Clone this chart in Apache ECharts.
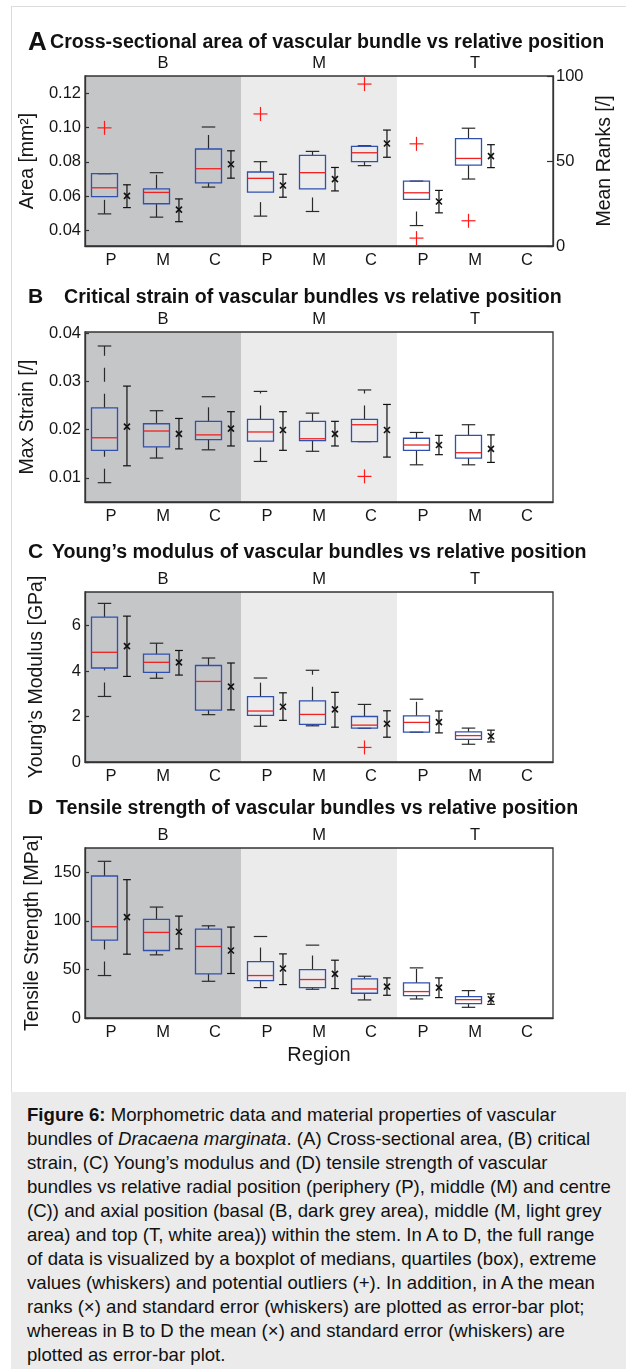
<!DOCTYPE html>
<html><head><meta charset="utf-8">
<script src="https://cdn.jsdelivr.net/npm/echarts@6/dist/echarts.min.js"></script>
<style>
html,body{margin:0;padding:0;background:#fff;}
#frame{position:absolute;left:11px;top:6px;width:640px;height:1086px;border-left:1px solid #dcdcdc;border-top:1px solid #dcdcdc;}
#chart{position:absolute;left:0;top:0;width:626px;height:1092px;}
#cap{position:absolute;left:11px;top:1092px;width:615px;height:277px;background:#ebebeb;font-family:'Liberation Sans',Arial,sans-serif;font-size:18.6px;line-height:24px;color:#111;padding:11px 0 0 16px;box-sizing:border-box;white-space:nowrap;overflow:hidden;}
</style></head>
<body>
<div id="frame"></div>
<div id="chart"></div>
<div id="cap"><b>Figure 6:</b> Morphometric data and material properties of vascular<br>bundles of <i>Dracaena marginata</i>. (A) Cross-sectional area, (B) critical<br>strain, (C) Young’s modulus and (D) tensile strength of vascular<br>bundles vs relative radial position (periphery (P), middle (M) and centre<br>(C)) and axial position (basal (B, dark grey area), middle (M, light grey<br>area) and top (T, white area)) within the stem. In A to D, the full range<br>of data is visualized by a boxplot of medians, quartiles (box), extreme<br>values (whiskers) and potential outliers (+). In addition, in A the mean<br>ranks (×) and standard error (whiskers) are plotted as error-bar plot;<br>whereas in B to D the mean (×) and standard error (whiskers) are<br>plotted as error-bar plot.</div>
<script>
// ---------- DATA ----------
const categories = ['P','M','C','P','M','C','P','M','C'];
const groups = ['B','M','T'];
const groupRanges = [[0,2],[3,5],[6,8]];

// box rows: [lower whisker, Q1, median, Q3, upper whisker]
const areaBox = [
  [0.0497,0.0597,0.0649,0.0731,0.0731],
  [0.0478,0.0556,0.0622,0.0643,0.0737],
  [0.0653,0.0678,0.0760,0.0875,0.1003],
  [0.0484,0.0624,0.0704,0.0741,0.0801],
  [0.0511,0.0643,0.0737,0.0838,0.0861],
  [0.0778,0.0801,0.0853,0.0890,0.0894],
  [0.0429,0.0581,0.0620,0.0688,0.0688],
  [0.0700,0.0781,0.0820,0.0935,0.0996],
  null
];
const areaOutliers = [[0,0.0998],[3,0.1079],[5,0.1253],[6,0.0905],[6,0.0356],[7,0.0457]];
// error bars: [low, centre, high]
const areaRanks = [
  [22.6,29.5,36.0],[14.3,21.4,27.7],[39.9,48.1,56.0],
  [28.7,35.6,42.2],[32.4,39.3,46.2],[52.2,60.3,68.2],
  [19.5,26.2,32.7],[46.1,52.9,59.6],null
];

const strainBox = [
  [0.0090,0.0157,0.0183,0.0245,0.0373],
  [0.0141,0.0164,0.0197,0.0212,0.0239],
  [0.0158,0.0179,0.0189,0.0217,0.0268],
  [0.0134,0.0176,0.0195,0.0221,0.0279],
  [0.0155,0.0177,0.0181,0.0217,0.0234],
  [0.0175,0.0175,0.0210,0.0221,0.0282],
  [0.0127,0.0157,0.0168,0.0182,0.0194],
  [0.0127,0.0141,0.0152,0.0188,0.0210],
  null
];
const strainOutliers = [[5,0.0103]];
const strainMean = [
  [0.0125,0.0206,0.0290],[0.0160,0.0191,0.0223],[0.0166,0.0202,0.0237],
  [0.0157,0.0199,0.0237],[0.0166,0.0191,0.0217],[0.0143,0.0199,0.0252],
  [0.0148,0.0168,0.0188],[0.0132,0.0160,0.0189],null
];

const modulusBox = [
  [2.88,4.13,4.82,6.37,6.97],
  [3.68,3.94,4.38,4.74,5.22],
  [2.08,2.28,3.54,4.24,4.57],
  [1.57,2.05,2.24,2.87,3.69],
  [1.59,1.65,2.09,2.69,4.03],
  [1.48,1.49,1.62,2.00,2.53],
  [1.31,1.31,1.74,2.03,2.76],
  [0.78,0.99,1.16,1.32,1.49],
  null
];
const modulusOutliers = [[5,0.64]];
const modulusMean = [
  [3.76,5.09,6.41],[3.82,4.38,4.90],[2.29,3.31,4.35],
  [1.83,2.43,3.04],[1.53,2.31,3.06],[1.09,1.68,2.25],
  [1.28,1.75,2.24],[0.88,1.13,1.40],null
];

const strengthBox = [
  [43.7,80.2,93.9,146.2,161.3],
  [65.0,69.5,88.1,101.5,114.2],
  [37.8,45.4,73.6,91.5,94.9],
  [31.3,38.5,43.7,58.1,83.9],
  [29.6,31.3,39.6,49.9,75.0],
  [18.6,25.5,29.9,40.2,43.0],
  [19.6,23.0,27.2,36.1,51.6],
  [11.0,14.8,18.9,22.0,28.2],
  null
];
const strengthOutliers = [];
const strengthMean = [
  [65.7,103.9,142.4],[71.2,88.8,104.9],[45.8,69.5,93.6],
  [34.4,50.9,66.0],[30.3,45.4,59.5],[23.4,32.3,41.3],
  [21.0,31.3,41.3],[14.1,19.3,24.8],null
];

const areaTicks = [0.04,0.06,0.08,0.10,0.12];
const rankTicks = [0,50,100];
const strainTicks = [0.01,0.02,0.03,0.04];
const modulusTicks = [0,2,4,6];
const strengthTicks = [0,50,100,150];

const letters = ['A','B','C','D'];
const titles = [
  'Cross-sectional area of vascular bundle vs relative position',
  'Critical strain of vascular bundles vs relative position',
  'Young’s modulus of vascular bundles vs relative position',
  'Tensile strength of vascular bundles vs relative position'
];
const yNames = ['Area [mm²]','Max Strain [/]','Young’s Modulus [GPa]','Tensile Strength [MPa]'];

// ---------- LAYOUT / STYLE ----------
const FONT = "'Liberation Sans', Arial, sans-serif";
const TXT = '#161616';
const AX = '#333333';
const groupColors = ['#c5c6c8','#ebebeb','#ffffff'];
const gridTops = [76, 332, 592, 848];
const GRID_H = 170, GRID_L = 85, GRID_W = 468;
const titleCenters = [42.5, 297, 552, 808.5];
const letterSizes = [26, 21, 21, 21];
const textLefts = [50, 64, 52, 56];
const TITLE_SIZE = 19.6;

const panels = [
  {box: areaBox, out: areaOutliers, mean: areaRanks, ticks: areaTicks, min: 0.031, max: 0.13, fmt: v => v.toFixed(2)},
  {box: strainBox, out: strainOutliers, mean: strainMean, ticks: strainTicks, min: 0.005, max: 0.0402, fmt: v => v.toFixed(2)},
  {box: modulusBox, out: modulusOutliers, mean: modulusMean, ticks: modulusTicks, min: 0, max: 7.47, fmt: v => String(v)},
  {box: strengthBox, out: strengthOutliers, mean: strengthMean, ticks: strengthTicks, min: 0, max: 175, fmt: v => String(v)}
];

const BOX_OFF = -0.125, BOX_HALF = 0.25, CAP_HALF = 0.13, EB_OFF = 0.307, EB_CAP = 0.075;

function bgSeries(xi, yi) {
  return {
    type: 'custom', xAxisIndex: xi, yAxisIndex: yi, z: -1, silent: true,
    data: groupRanges.map((r, i) => [r[0], r[1], i]),
    encode: {x: 0},
    renderItem: (params, api) => {
      const s = api.coord([api.value(0), 0])[0];
      const e = api.coord([api.value(1), 0])[0];
      const bw = api.size([1, 0])[0];
      const cs = params.coordSys;
      return {type: 'rect', shape: {x: s - bw / 2, y: cs.y, width: e - s + bw, height: cs.height},
              style: {fill: groupColors[api.value(2)]}};
    }
  };
}

function boxSeries(rows, xi, yi) {
  return {
    type: 'custom', xAxisIndex: xi, yAxisIndex: yi, z: 3, silent: true,
    data: rows.map((d, i) => d ? [i].concat(d) : null).filter(Boolean),
    encode: {x: 0, y: [1, 2, 3, 4, 5]},
    renderItem: (params, api) => {
      const i = api.value(0);
      const bw = api.size([1, 0])[0];
      const cx = api.coord([i, 0])[0] + BOX_OFF * bw;
      const y = k => api.coord([i, api.value(k)])[1];
      const lo = y(1), q1 = y(2), med = y(3), q3 = y(4), hi = y(5);
      const hw = BOX_HALF * bw, cw = CAP_HALF * bw;
      const solid = {stroke: '#2a2a2a', lineWidth: 1.2};
      const dashed = {stroke: '#2a2a2a', lineWidth: 1.2, lineDash: [14, 12]};
      return {type: 'group', children: [
        {type: 'line', shape: {x1: cx, y1: lo, x2: cx, y2: q1}, style: dashed},
        {type: 'line', shape: {x1: cx, y1: q3, x2: cx, y2: hi}, style: dashed},
        {type: 'line', shape: {x1: cx - cw, y1: lo, x2: cx + cw, y2: lo}, style: solid},
        {type: 'line', shape: {x1: cx - cw, y1: hi, x2: cx + cw, y2: hi}, style: solid},
        {type: 'rect', shape: {x: cx - hw, y: q3, width: 2 * hw, height: q1 - q3},
         style: {fill: null, stroke: '#3050b0', lineWidth: 1.3}},
        {type: 'line', shape: {x1: cx - hw, y1: med, x2: cx + hw, y2: med}, style: {stroke: '#ee2222', lineWidth: 1.3}}
      ]};
    }
  };
}

function outlierSeries(pts, xi, yi) {
  return {
    type: 'custom', xAxisIndex: xi, yAxisIndex: yi, z: 4, silent: true,
    data: pts, encode: {x: 0, y: 1},
    renderItem: (params, api) => {
      const i = api.value(0);
      const bw = api.size([1, 0])[0];
      const p = api.coord([i, api.value(1)]);
      const cx = p[0] + BOX_OFF * bw, cy = p[1], r = 7;
      const st = {stroke: '#ff1a1a', lineWidth: 1.2};
      return {type: 'group', children: [
        {type: 'line', shape: {x1: cx - r, y1: cy, x2: cx + r, y2: cy}, style: st},
        {type: 'line', shape: {x1: cx, y1: cy - r, x2: cx, y2: cy + r}, style: st}
      ]};
    }
  };
}

function errorSeries(rows, xi, yi) {
  return {
    type: 'custom', xAxisIndex: xi, yAxisIndex: yi, z: 4, silent: true,
    data: rows.map((d, i) => d ? [i].concat(d) : null).filter(Boolean),
    encode: {x: 0, y: [1, 2, 3]},
    renderItem: (params, api) => {
      const i = api.value(0);
      const bw = api.size([1, 0])[0];
      const cx = api.coord([i, 0])[0] + EB_OFF * bw;
      const lo = api.coord([i, api.value(1)])[1];
      const mid = api.coord([i, api.value(2)])[1];
      const hi = api.coord([i, api.value(3)])[1];
      const cw = EB_CAP * bw, m = 3;
      const st = {stroke: '#111', lineWidth: 1.2};
      const mk = {stroke: '#111', lineWidth: 1.6};
      return {type: 'group', children: [
        {type: 'line', shape: {x1: cx, y1: lo, x2: cx, y2: hi}, style: st},
        {type: 'line', shape: {x1: cx - cw, y1: lo, x2: cx + cw, y2: lo}, style: st},
        {type: 'line', shape: {x1: cx - cw, y1: hi, x2: cx + cw, y2: hi}, style: st},
        {type: 'line', shape: {x1: cx - m, y1: mid - m, x2: cx + m, y2: mid + m}, style: mk},
        {type: 'line', shape: {x1: cx - m, y1: mid + m, x2: cx + m, y2: mid - m}, style: mk}
      ]};
    }
  };
}

const grid = [], xAxis = [], yAxis = [], series = [], title = [];
panels.forEach((p, g) => {
  grid.push({left: GRID_L, top: gridTops[g], width: GRID_W, height: GRID_H, show: true,
             borderColor: AX, borderWidth: 1.3, backgroundColor: 'transparent'});
  xAxis.push({
    gridIndex: g, type: 'category', data: categories, boundaryGap: true, position: 'bottom',
    axisLine: {lineStyle: {color: AX, width: 1.3}},
    axisTick: {inside: true, length: 5, alignWithLabel: true, lineStyle: {color: AX, width: 1.2}},
    axisLabel: {fontFamily: FONT, fontSize: 16.5, color: TXT, margin: 6},
    name: g === 3 ? 'Region' : '', nameLocation: 'middle', nameGap: 27,
    nameTextStyle: {fontFamily: FONT, fontSize: 20, color: TXT}
  });
  xAxis.push({
    gridIndex: g, type: 'category', data: groups, position: 'top', boundaryGap: true,
    axisLine: {show: false}, axisTick: {show: false},
    axisLabel: {fontFamily: FONT, fontSize: 16.5, color: TXT, margin: 4}
  });
  yAxis.push({
    gridIndex: g, type: 'value', min: p.min, max: p.max, position: 'left',
    splitLine: {show: false},
    axisLine: {show: true, lineStyle: {color: AX, width: 1.3}},
    axisTick: {show: true, inside: true, length: 4, customValues: p.ticks, lineStyle: {color: AX, width: 1.2}},
    axisLabel: {customValues: p.ticks, formatter: p.fmt, fontFamily: FONT, fontSize: 16.5, color: TXT, margin: 4},
    name: yNames[g], nameLocation: 'middle', nameRotate: 90, nameGap: 38,
    nameTextStyle: {fontFamily: FONT, fontSize: 19.5, color: TXT}
  });
  title.push({text: letters[g], left: 28, top: titleCenters[g] - letterSizes[g] / 2, padding: 0,
              textStyle: {fontFamily: FONT, fontSize: letterSizes[g], fontWeight: 'bold', color: '#111'}});
  title.push({text: titles[g], left: textLefts[g], top: titleCenters[g] - TITLE_SIZE / 2, padding: 0,
              textStyle: {fontFamily: FONT, fontSize: TITLE_SIZE, fontWeight: 'bold', color: '#111'}});
});
// right rank axis for panel A
yAxis.push({
  gridIndex: 0, type: 'value', min: 0, max: 100, position: 'right',
  splitLine: {show: false},
  axisLine: {show: true, lineStyle: {color: AX, width: 1.3}},
  axisTick: {show: true, inside: true, length: 6, customValues: rankTicks, lineStyle: {color: AX, width: 1.2}},
  axisLabel: {customValues: rankTicks, fontFamily: FONT, fontSize: 16.5, color: TXT, margin: 3},
  name: 'Mean Ranks [/]', nameLocation: 'middle', nameRotate: 90, nameGap: 38,
  nameTextStyle: {fontFamily: FONT, fontSize: 19.5, color: TXT}
});

panels.forEach((p, g) => {
  const xi = 2 * g, yi = g;
  series.push(bgSeries(xi, yi));
  series.push(boxSeries(p.box, xi, yi));
  if (p.out.length) series.push(outlierSeries(p.out, xi, yi));
  series.push(errorSeries(p.mean, xi, g === 0 ? 4 : yi));
});

const chart = echarts.init(document.getElementById('chart'), null, {renderer: 'canvas'});
chart.setOption({animation: false, backgroundColor: 'transparent', title, grid, xAxis, yAxis, series});
</script>
</body></html>
